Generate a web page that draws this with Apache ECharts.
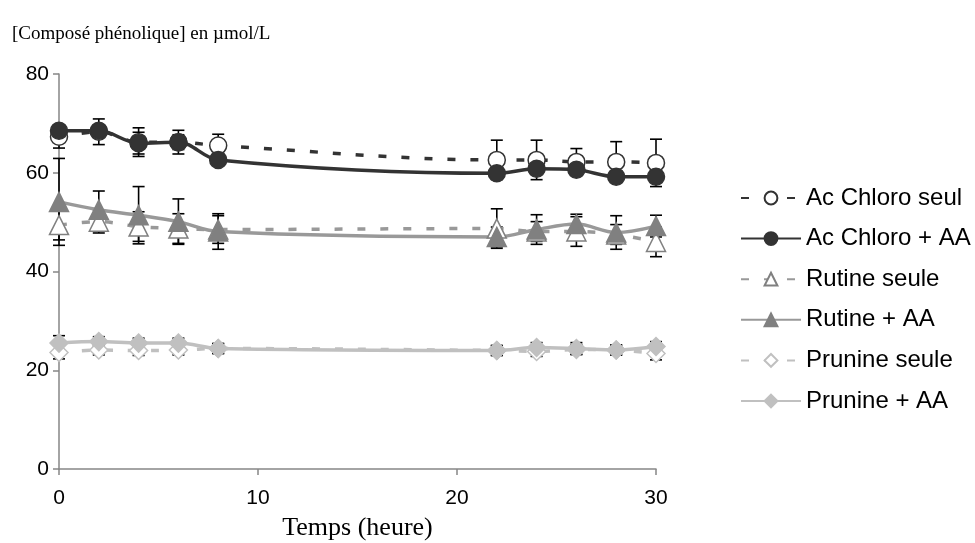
<!DOCTYPE html>
<html>
<head>
<meta charset="utf-8">
<script src="https://cdn.jsdelivr.net/npm/echarts@6/dist/echarts.min.js"></script>
<style>
html,body{margin:0;padding:0;background:#fff;}
#chart{width:975px;height:543px;}
</style>
</head>
<body>
<div id="chart"></div>
<script>
// ---- data ----
var hours = [0, 2, 4, 6, 8, 22, 24, 26, 28, 30];
var seriesNames = ['Ac Chloro seul', 'Ac Chloro + AA', 'Rutine seule', 'Rutine + AA', 'Prunine seule', 'Prunine + AA'];
var acChloroSeul = [67.3, 68.3, 66.2, 66.2, 65.5, 62.6, 62.6, 62.2, 62.2, 62.0];
var acChloroAA   = [68.5, 68.5, 66.0, 66.2, 62.6, 59.9, 60.8, 60.6, 59.2, 59.2];
var rutineSeule  = [49.4, 50.1, 49.1, 48.7, 48.5, 48.7, 48.1, 48.1, 47.5, 46.0];
var rutineAA     = [54.1, 52.5, 51.4, 50.1, 48.1, 47.0, 48.5, 49.6, 47.9, 49.2];
var prunineSeule = [23.6, 24.1, 24.0, 24.1, 24.4, 24.0, 23.8, 24.2, 24.1, 23.4];
var prunineAA    = [25.5, 25.8, 25.5, 25.5, 24.4, 24.0, 24.6, 24.4, 24.1, 24.8];
// error bar half-widths (±)
var acChloroSeulErr = [2.3, 2.6, 2.9, 2.4, 2.3, 4.0, 4.0, 2.7, 4.1, 4.8];
var acChloroAAErr   = [1.0, 1.0, 2.2, 1.5, 1.0, 1.0, 1.0, 1.0, 1.0, 1.0];
var rutineSeuleErr  = [3.0, 2.3, 3.0, 3.0, 2.8, 4.0, 2.0, 3.0, 2.0, 3.0];
var rutineAAErr     = [8.8, 3.8, 5.8, 4.6, 3.6, 2.0, 3.0, 2.0, 3.4, 2.2];
var prunineSeuleErr = [1.3, 1.0, 1.0, 1.0, 1.0, 1.0, 1.0, 1.0, 1.0, 1.3];
var prunineAAErr    = [1.5, 1.0, 1.0, 1.0, 1.0, 1.0, 1.0, 1.2, 1.0, 1.0];
var xTicks = [0, 10, 20, 30];
var yTicks = [0, 20, 40, 60, 80];

// ---- styles ----
var DARK = '#333333', MID = '#999999', MIDMARK = '#808080', LIGHT = '#c0c0c0';
var styles = [
  {vals: acChloroSeul, err: acChloroSeulErr, line: DARK, dash: [8, 15], symbol: 'circle', size: 17, fill: '#ffffff', border: DARK},
  {vals: acChloroAA,   err: acChloroAAErr,   line: DARK, dash: 'solid',  symbol: 'circle', size: 17, fill: DARK, border: DARK},
  {vals: rutineSeule,  err: rutineSeuleErr,  line: MID,  dash: [8, 15], symbol: 'triangle', size: 19, fill: '#ffffff', border: MIDMARK},
  {vals: rutineAA,     err: rutineAAErr,     line: MID,  dash: 'solid',  symbol: 'triangle', size: 19, fill: MIDMARK, border: MIDMARK},
  {vals: prunineSeule, err: prunineSeuleErr, line: LIGHT, dash: [8, 15], symbol: 'diamond', size: 18, fill: '#ffffff', border: LIGHT},
  {vals: prunineAA,    err: prunineAAErr,    line: LIGHT, dash: 'solid',  symbol: 'diamond', size: 18, fill: LIGHT, border: LIGHT}
];

var series = [];
styles.forEach(function (s, k) {
  series.push({
    type: 'custom',
    name: 'err' + k,
    silent: true,
    data: hours.map(function (h, i) { return [h, s.vals[i] - s.err[i], s.vals[i] + s.err[i]]; }),
    encode: {x: 0, y: [1, 2]},
    renderItem: function (params, api) {
      var lo = api.coord([api.value(0), api.value(1)]);
      var hi = api.coord([api.value(0), api.value(2)]);
      var w = 6;
      var st = {stroke: '#000', lineWidth: 1.6};
      return {
        type: 'group',
        children: [
          {type: 'line', shape: {x1: lo[0], y1: lo[1], x2: hi[0], y2: hi[1]}, style: st},
          {type: 'line', shape: {x1: lo[0] - w, y1: lo[1], x2: lo[0] + w, y2: lo[1]}, style: st},
          {type: 'line', shape: {x1: hi[0] - w, y1: hi[1], x2: hi[0] + w, y2: hi[1]}, style: st}
        ]
      };
    }
  });
  series.push({
    type: 'line',
    name: seriesNames[k],
    data: hours.map(function (h, i) { return [h, s.vals[i]]; }),
    smooth: 0.35,
    symbol: s.symbol,
    symbolSize: s.size,
    showAllSymbol: true,
    lineStyle: {color: s.line, width: 3.5, type: s.dash, cap: 'butt'},
    itemStyle: {color: s.fill, borderColor: s.border, borderWidth: 1.5, opacity: 1},
    emphasis: {disabled: true},
    animation: false
  });
});

var chart = echarts.init(document.getElementById('chart'), null, {renderer: 'canvas'});
chart.setOption({
  animation: false,
  backgroundColor: '#ffffff',
  title: {
    text: '[Composé phénolique] en µmol/L',
    left: 7, top: 20,
    textStyle: {fontFamily: 'Liberation Serif', fontSize: 19, fontWeight: 'normal', color: '#000'}
  },
  grid: {left: 59, right: 319, top: 74, bottom: 74, containLabel: false, outerBoundsMode: 'none'},
  xAxis: {
    type: 'value', min: xTicks[0], max: xTicks[xTicks.length - 1], interval: 10,
    name: 'Temps (heure)', nameLocation: 'middle', nameGap: 46,
    nameTextStyle: {fontFamily: 'Liberation Serif', fontSize: 26, color: '#000'},
    axisLine: {show: true, lineStyle: {color: '#868686', width: 1.5}},
    axisTick: {show: true, inside: false, length: 6, lineStyle: {color: '#868686', width: 1.5}},
    axisLabel: {fontFamily: 'Liberation Sans', fontSize: 21, color: '#000', margin: 19},
    splitLine: {show: false}
  },
  yAxis: {
    type: 'value', min: yTicks[0], max: yTicks[yTicks.length - 1], interval: 20,
    axisLine: {show: true, lineStyle: {color: '#868686', width: 1.5}},
    axisTick: {show: true, inside: false, length: 6, lineStyle: {color: '#868686', width: 1.5}},
    axisLabel: {fontFamily: 'Liberation Sans', fontSize: 21, color: '#000', margin: 10},
    splitLine: {show: false}
  },
  legend: {
    data: seriesNames,
    orient: 'vertical',
    left: 735, top: 181,
    itemWidth: 60, itemHeight: 16, itemGap: 16.6,
    textStyle: {fontFamily: 'Liberation Sans', fontSize: 24, color: '#000'},
    selectedMode: false
  },
  series: series
});
</script>
</body>
</html>
